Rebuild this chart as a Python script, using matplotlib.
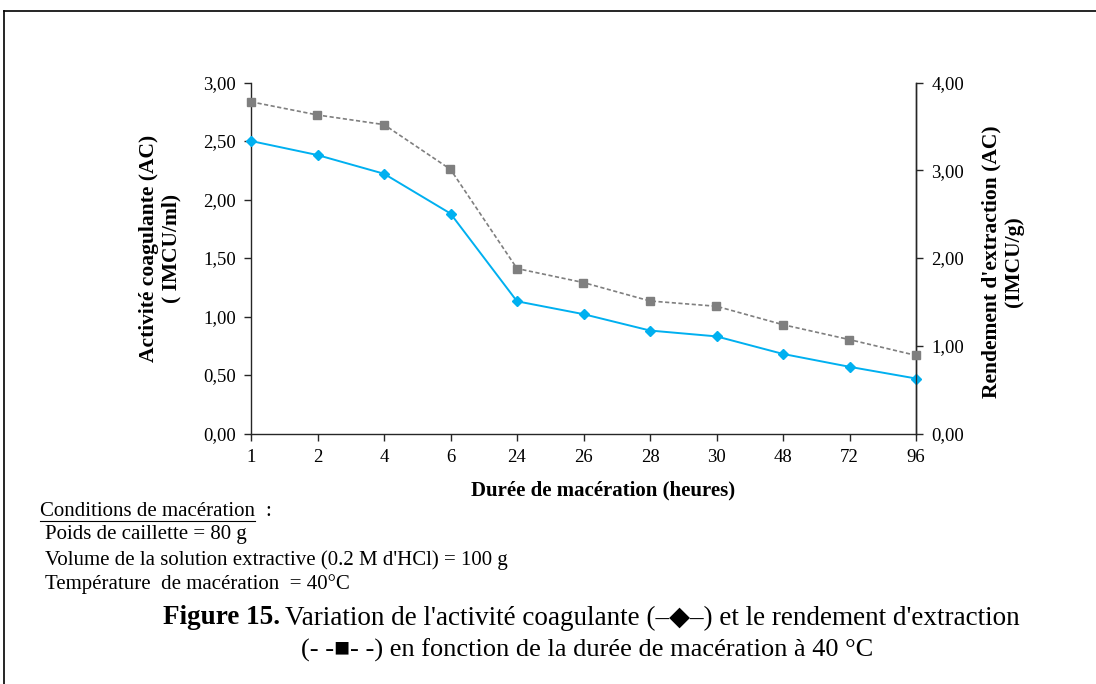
import matplotlib.pyplot as plt
from matplotlib.lines import Line2D

# --- DATA ---
hours = ["1", "2", "4", "6", "24", "26", "28", "30", "48", "72", "96"]
activite = [2.50, 2.38, 2.22, 1.88, 1.13, 1.02, 0.88, 0.83, 0.68, 0.57, 0.47]
rendement = [3.78, 3.63, 3.52, 3.01, 1.88, 1.72, 1.51, 1.45, 1.24, 1.07, 0.89]
left_ticks = [0, 0.5, 1.0, 1.5, 2.0, 2.5, 3.0]
right_ticks = [0, 1.0, 2.0, 3.0, 4.0]

plt.rcParams['font.family'] = ['Liberation Serif', 'DejaVu Serif']

W, H = 1096, 684
fig = plt.figure(figsize=(W / 100, H / 100), dpi=100)
ax = fig.add_axes([251 / W, 1 - 433.5 / H, (916 - 251) / W, (433.5 - 82.5) / H])
ax2 = ax.twinx()

x = list(range(len(hours)))
blue = "#00B0F0"
gray = "#7F7F7F"

ax.plot(x, activite, color=blue, lw=1.4, marker="D", ms=5.5, mec=blue, mfc=blue,
        zorder=3, clip_on=False)
ax2.plot(x, rendement, color=gray, lw=1.2, ls=(0, (2.5, 1.5)), marker="s", ms=5.5,
         mec=gray, mfc=gray, zorder=3, clip_on=False)

ax.set_xlim(0, 10)
ax.set_ylim(0, 3)
ax2.set_ylim(0, 4)
ax.set_xticks(x)
ax.set_xticklabels(hours)
ax.set_yticks(left_ticks)
ax.set_yticklabels([f"{v:.2f}".replace(".", ",") for v in left_ticks])
ax2.set_yticks(right_ticks)
ax2.set_yticklabels([f"{v:.2f}".replace(".", ",") for v in right_ticks])

for a in (ax, ax2):
    a.spines["top"].set_visible(False)
    for s in a.spines.values():
        s.set_color("#262626")
        s.set_linewidth(1.0)
    a.tick_params(labelsize=13.5, length=5, width=1, color="#262626", pad=6)
ax2.spines["left"].set_visible(False)
ax2.spines["bottom"].set_visible(False)

# axis titles
fig.text(603 / W, 1 - 490 / H, "Durée de macération (heures)", fontsize=15,
         fontweight="bold", ha="center", va="center")
fig.text(160 / W, 1 - 248 / H, "Activité coagulante (AC)\n( IMCU/ml)", fontsize=15.5,
         fontweight="bold", rotation=90, ha="center", va="center", multialignment="center",
         linespacing=1.15)
fig.text(1003 / W, 1 - 262 / H, "Rendement d'extraction (AC)\n(IMCU/g)", fontsize=15.5,
         fontweight="bold", rotation=90, ha="center", va="center", multialignment="center",
         linespacing=1.15)

# --- conditions text ---
cond_y = [511, 535, 560, 584]
fs_c = 15
t0 = fig.text(40 / W, 1 - cond_y[0] / H, "Conditions de macération", fontsize=fs_c, va="center")
fig.text(265 / W, 1 - cond_y[0] / H, ":", fontsize=fs_c, va="center")
fig.text(45 / W, 1 - cond_y[1] / H, "Poids de caillette = 80 g", fontsize=fs_c, va="center")
fig.text(45 / W, 1 - cond_y[2] / H, "Volume de la solution extractive (0.2 M d'HCl) = 100 g",
         fontsize=fs_c, va="center")
fig.text(45 / W, 1 - cond_y[3] / H, "Température  de macération  = 40°C", fontsize=fs_c, va="center")

fig.canvas.draw()
bb = t0.get_window_extent()
fig.add_artist(Line2D([bb.x0 / W, bb.x1 / W], [1 - 521 / H, 1 - 521 / H],
                      color="black", lw=0.8, transform=fig.transFigure))

# --- caption ---
fig.text(280 / W, 1 - 618 / H, "Figure 15.", fontsize=19.5, fontweight="bold", ha="right", va="center")
fig.text(285 / W, 1 - 618 / H,
         "Variation de l'activité coagulante (–◆–) et le rendement d'extraction",
         fontsize=19.5, ha="left", va="center")
fig.text(587 / W, 1 - 650 / H, "(- -■- -) en fonction de la durée de macération à 40 °C",
         fontsize=19, ha="center", va="center")

# --- frame ---
fig.add_artist(Line2D([4 / W, 1], [1 - 11 / H, 1 - 11 / H], color="black", lw=1.2,
                      transform=fig.transFigure))
fig.add_artist(Line2D([4 / W, 4 / W], [0, 1 - 11 / H], color="black", lw=1.2,
                      transform=fig.transFigure))

fig.savefig("out.png", dpi=100)
